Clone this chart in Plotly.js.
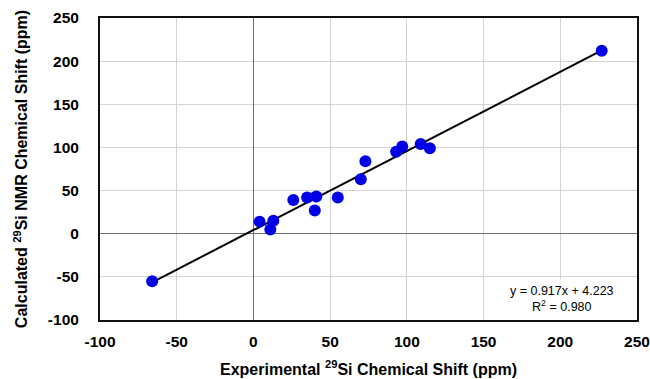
<!DOCTYPE html>
<html>
<head>
<meta charset="utf-8">
<script src="https://cdn.plot.ly/plotly-3.0.1.min.js"></script>
<style>html,body{margin:0;padding:0;background:#fff;}#chart{width:650px;height:379px;}</style>
</head>
<body>
<div id="chart"></div>
<script>
// Experimental vs calculated 29Si chemical shifts (ppm)
const experimental = [-66, 4, 11, 13, 26, 35, 40, 41, 55, 70, 73, 93, 97, 109, 115, 227];
const calculated   = [-55, 14, 5, 15, 39, 42, 27, 43, 42, 63, 84, 95, 101, 104, 99, 212];
const fitSlope = 0.917;
const fitIntercept = 4.223;
const fitR2 = 0.980;
const fitRange = [-66, 227];
const tickVals = [-100, -50, 0, 50, 100, 150, 200, 250];
const tickLabels = ['-100', '-50', '0', '50', '100', '150', '200', '250'];

const fitY = fitRange.map(x => fitSlope * x + fitIntercept);

const font = {family: 'Liberation Sans, Arial, sans-serif', color: '#000'};

const traces = [
  {
    x: fitRange, y: fitY, mode: 'lines', type: 'scatter',
    line: {color: '#000', width: 2}, hoverinfo: 'skip', showlegend: false
  },
  {
    x: experimental, y: calculated, mode: 'markers', type: 'scatter',
    marker: {color: '#0000e6', size: 12}, showlegend: false
  }
];

const axisCommon = {
  range: [-100, 250], tickvals: tickVals, ticktext: tickLabels,
  showgrid: true, gridcolor: '#d4d4d4', gridwidth: 1,
  zeroline: true, zerolinecolor: '#707070', zerolinewidth: 1.5,
  showline: true, linecolor: '#111', linewidth: 2, mirror: true,
  ticks: '', tickfont: Object.assign({}, font, {size: 15.5, weight: 'bold'}),
  fixedrange: true
};

const layout = {
  width: 650, height: 379,
  margin: {l: 100, r: 13, t: 18, b: 59},
  paper_bgcolor: '#fff', plot_bgcolor: '#fff',
  font: font,
  xaxis: Object.assign({}, axisCommon, {
    ticklabelstandoff: 6,
    title: {text: '<b>Experimental <sup>29</sup>Si Chemical Shift (ppm)</b>', font: Object.assign({}, font, {size: 16}), standoff: 15}
  }),
  yaxis: Object.assign({}, axisCommon, {
    ticklabelstandoff: 16,
    title: {text: '<b>Calculated <sup>29</sup>Si NMR Chemical Shift (ppm)</b>', font: Object.assign({}, font, {size: 16}), standoff: 16}
  }),
  shapes: [{
    type: 'rect', xref: 'x', yref: 'y', x0: 151.5, x1: 250, y0: -100, y1: -53,
    fillcolor: '#fff', line: {width: 0}, layer: 'between'
  }],
  annotations: [{
    xref: 'x', yref: 'y', x: 201, y: -76, xanchor: 'center', yanchor: 'middle',
    text: 'y = ' + fitSlope.toFixed(3) + 'x + ' + fitIntercept.toFixed(3) + '<br>R<sup>2</sup> = ' + fitR2.toFixed(3),
    showarrow: false, align: 'center',
    font: Object.assign({}, font, {size: 12.5})
  }]
};

Plotly.newPlot('chart', traces, layout, {displayModeBar: false, staticPlot: true});
</script>
</body>
</html>
